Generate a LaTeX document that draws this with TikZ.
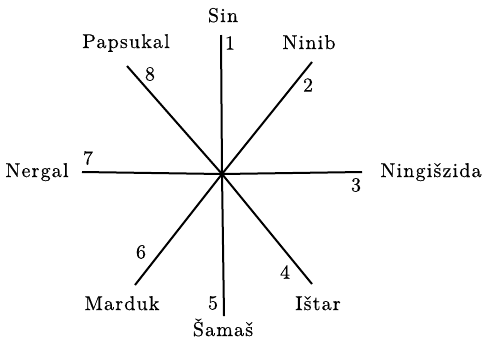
\documentclass[tikz,border=0pt]{standalone}
\usepackage{fontspec}
\setmainfont{lmroman10-regular}[Extension=.otf, LetterSpace=6, FakeBold=0.5]
\begin{document}
\begin{tikzpicture}[x=1bp,y=-1bp,
  lbl/.style={font=\fontsize{20}{23}\selectfont, inner sep=0pt, anchor=base},
  num/.style={font=\fontsize{20}{23}\selectfont, inner sep=0pt},
  ray/.style={line width=2bp}]
\useasboundingbox (0,0) rectangle (483,344);
\coordinate (c) at (222,174);
\coordinate (e1) at (221,35);
\coordinate (e2) at (312,62);
\coordinate (e3) at (362,172);
\coordinate (e4) at (312,284);
\coordinate (e5) at (224,316);
\coordinate (e6) at (135,285);
\coordinate (e7) at (82,172);
\coordinate (e8) at (127,66);
\foreach \i in {1,...,8} \draw[ray] (c) -- (e\i);
\fill (c) circle (2.6bp);
% names
\node[lbl] (sin) at (223,22) {Sin};
\node[lbl] (ninib) at (309,49) {Ninib};
\node[lbl] (ning) at (431,177) {Ningišzida};
\node[lbl] (istar) at (318,310) {Ištar};
\node[lbl] (samas) at (223,336) {Šamaš};
\node[lbl] (marduk) at (122,310) {Marduk};
\node[lbl] (nergal) at (37,177) {Nergal};
\node[lbl] (papsukal) at (126,48) {Papsukal};
% numbers
\node[num] (n1) at (230,43) {1};
\node[num] (n2) at (308,85) {2};
\node[num] (n3) at (356,185) {3};
\node[num] (n4) at (285,272) {4};
\node[num] (n5) at (213,303) {5};
\node[num] (n6) at (141,252) {6};
\node[num] (n7) at (88,158) {7};
\node[num] (n8) at (150,74) {8};
\end{tikzpicture}
\end{document}
